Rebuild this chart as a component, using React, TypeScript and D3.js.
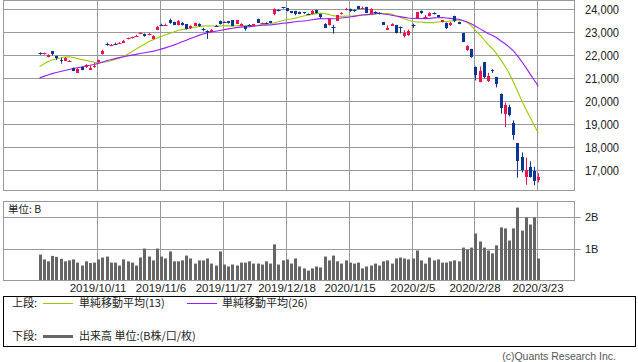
import React from "react";
import * as d3 from "d3";

const dates = [
  "2019/9/20","2019/9/24","2019/9/25","2019/9/26","2019/9/27","2019/9/30","2019/10/1","2019/10/2","2019/10/3","2019/10/4",
  "2019/10/7","2019/10/8","2019/10/9","2019/10/10","2019/10/11","2019/10/15","2019/10/16","2019/10/17","2019/10/18","2019/10/21",
  "2019/10/23","2019/10/24","2019/10/25","2019/10/28","2019/10/29","2019/10/30","2019/10/31","2019/11/1","2019/11/5","2019/11/6",
  "2019/11/7","2019/11/8","2019/11/11","2019/11/12","2019/11/13","2019/11/14","2019/11/15","2019/11/18","2019/11/19","2019/11/20",
  "2019/11/21","2019/11/22","2019/11/25","2019/11/26","2019/11/27","2019/11/28","2019/11/29","2019/12/2","2019/12/3","2019/12/4",
  "2019/12/5","2019/12/6","2019/12/9","2019/12/10","2019/12/11","2019/12/12","2019/12/13","2019/12/16","2019/12/17","2019/12/18",
  "2019/12/19","2019/12/20","2019/12/23","2019/12/24","2019/12/25","2019/12/26","2019/12/27","2019/12/30","2020/1/6","2020/1/7",
  "2020/1/8","2020/1/9","2020/1/10","2020/1/14","2020/1/15","2020/1/16","2020/1/17","2020/1/20","2020/1/21","2020/1/22",
  "2020/1/23","2020/1/24","2020/1/27","2020/1/28","2020/1/29","2020/1/30","2020/1/31","2020/2/3","2020/2/4","2020/2/5",
  "2020/2/6","2020/2/7","2020/2/10","2020/2/12","2020/2/13","2020/2/14","2020/2/17","2020/2/18","2020/2/19","2020/2/20",
  "2020/2/21","2020/2/25","2020/2/26","2020/2/27","2020/2/28","2020/3/2","2020/3/3","2020/3/4","2020/3/5","2020/3/6",
  "2020/3/9","2020/3/10","2020/3/11","2020/3/12","2020/3/13","2020/3/16","2020/3/17","2020/3/18","2020/3/19","2020/3/23",
];

const opens = [
  22100,22080,21950,22190,21980,21800,21780,21740,21450,21260,
  21500,21480,21390,21500,21700,22060,22490,22430,22510,22520,
  22560,22730,22770,22840,22950,22950,22900,22720,23118,23330,
  23310,23550,23460,23330,23400,23350,23180,23290,23380,23170,
  23060,23030,23300,23490,23460,23490,23530,23390,23300,23270,
  23330,23300,23580,23390,23420,23480,23790,23980,24090,24050,
  23930,23930,23900,23880,23810,23800,23980,23800,23380,23320,
  23220,23510,23790,23970,24030,23960,24140,24050,24100,23820,
  23890,23850,23450,23130,23300,23320,23220,22840,22880,23340,
  23620,23940,23650,23710,23850,23750,23450,23420,23310,23710,
  23450,22970,22230,22270,21500,20849,21719,20897,21380,21050,
  20344,19474,19740,19064,18183,17586,16726,17154,16995,16570,
];
const highs = [
  22140,22120,22050,22200,21990,21900,21930,21800,21480,21450,
  21520,21620,21560,21680,21820,22250,22560,22500,22560,22580,
  22680,22780,22820,22900,23010,22960,22980,22880,23290,23380,
  23390,23600,23470,23540,23450,23370,23310,23430,23400,23200,
  23100,23150,23330,23520,23480,23500,23540,23540,23400,23290,
  23360,23380,23600,23430,23440,23500,24050,24000,24110,24060,
  23940,23940,23910,23890,23830,23980,23990,23810,23400,23580,
  23330,23750,23880,24070,24040,24000,24150,24130,24120,24050,
  23920,23880,23460,23310,23400,23330,23260,23100,23130,23380,
  23880,23960,23750,23880,23880,23760,23540,23440,23460,23730,
  23470,22980,22450,22290,21520,21519,21719,21245,21400,21070,
  20347,19952,19860,19178,18184,17785,17557,17396,17160,16880,
];
const lows = [
  22030,22040,21920,22000,21810,21650,21760,21720,21320,21250,
  21360,21460,21370,21470,21690,22040,22420,22400,22450,22500,
  22540,22700,22740,22820,22930,22820,22880,22700,23100,23280,
  23290,23380,23320,23310,23300,23130,23150,23270,23250,23050,
  22726,23010,23260,23350,23420,23390,23280,23380,23280,23080,
  23280,23290,23410,23370,23370,23400,23750,23920,24040,23920,
  23840,23750,23800,23810,23770,23790,23820,23620,23190,23300,
  22950,23500,23780,23960,23900,23900,24010,24040,23840,23810,
  23800,23790,23330,23110,23280,22960,22960,22780,22850,23200,
  23600,23810,23630,23700,23780,23660,23440,23150,23280,23450,
  23360,22580,22200,21900,20916,20834,21000,20850,21250,20613,
  19472,18891,19350,18339,16690,16914,16378,16698,16358,16480,
];
const closes = [
  22079,22098,22020,22048,21878,21755,21885,21778,21341,21410,
  21375,21587,21456,21551,21798,22207,22472,22451,22492,22548,
  22625,22750,22799,22867,22974,22843,22927,22850,23251,23303,
  23330,23391,23331,23520,23319,23141,23303,23416,23292,23148,
  23038,23112,23292,23373,23437,23409,23293,23529,23379,23135,
  23300,23354,23430,23410,23391,23424,24023,23952,24066,23934,
  23864,23816,23821,23830,23782,23924,23837,23656,23204,23575,
  23204,23739,23850,24025,23916,23933,24041,24083,23864,24031,
  23870,23827,23343,23215,23379,22977,23205,22971,23084,23319,
  23873,23827,23685,23861,23827,23687,23523,23193,23400,23479,
  23386,22605,22426,21948,21142,21344,21082,21100,21329,20749,
  19698,19867,19416,18559,17431,17002,17011,16726,16552,16720,
];
// closes of the 25 sessions before the first visible one (for the moving averages)
const priorCloses = [
  20405,20418,20563,20677,20618,20628,20710,20261,20456,20479,
  20460,20704,20620,20625,20649,21085,21199,21318,21392,21597,
  21759,21988,22001,21960,22044,
];
const volumes = [
  0.84,0.69,0.63,0.80,0.77,0.71,0.63,0.66,0.69,0.59,
  0.50,0.63,0.58,0.59,0.69,0.75,0.78,0.59,0.59,0.50,
  0.69,0.63,0.59,0.50,0.75,1.03,0.78,0.66,1.03,0.78,
  0.72,0.94,0.63,0.63,0.66,0.81,0.72,0.56,0.66,0.66,
  0.72,0.56,0.50,0.94,0.53,0.47,0.53,0.50,0.59,0.59,
  0.63,0.56,0.56,0.53,0.63,0.56,1.16,0.53,0.66,0.69,
  0.56,0.72,0.47,0.41,0.34,0.41,0.47,0.44,0.78,0.66,
  0.81,0.63,0.56,0.66,0.59,0.56,0.59,0.41,0.47,0.50,
  0.56,0.50,0.63,0.66,0.56,0.72,0.75,0.72,0.69,0.72,
  0.97,0.66,0.56,0.75,0.66,0.69,0.59,0.59,0.63,0.66,
  0.63,1.06,1.00,1.06,1.50,1.25,1.06,0.97,0.88,1.13,
  1.69,1.66,1.28,1.66,2.31,1.59,2.00,1.78,2.00,0.72,
];

const dateTicks = ["2019/10/11","2019/11/6","2019/11/27","2019/12/18","2020/1/15","2020/2/5","2020/2/28","2020/3/23"];
const priceTicks = [17000,18000,19000,20000,21000,22000,23000,24000];
const volumeTicks = [1, 2];
const volumeTickLabels = ["1B", "2B"];
const maPeriods = [13, 26];

const UP = "#f0114f";
const DOWN = "#0b3595";
const MA_COLORS = ["#99cc00", "#9b1cff"];
const GRID = "#999999";
const FONT = "'Liberation Sans', Arial, sans-serif";
const CJK = "'Noto Sans CJK JP', 'Noto Sans', sans-serif";

export default function App() {
  const W = 638, H = 362;
  const L = 3.5, R = 574.5;
  const x = d3.scaleLinear().domain([0, dates.length - 1]).range([39.6, 538.3]);
  const yP = d3.scaleLinear().domain([16130, 24391]).range([190.5, 0.5]);
  const yV = d3.scaleLinear().domain([0, 2.5]).range([281.5, 201.5]);
  const cx = (i: number) => Math.round(x(i));

  const all = priorCloses.concat(closes);
  const off = priorCloses.length;
  const maSeries = maPeriods.map((p) =>
    closes.map((_, i) => {
      const end = off + i + 1;
      return d3.mean(all.slice(end - p, end)) as number;
    })
  );
  const line = d3.line<number>().x((_, i) => x(i)).y((v) => yP(v));
  const tickIdx = dateTicks.map((d) => dates.indexOf(d));

  return (
    <svg width={W} height={H} style={{ position: "absolute", left: 0, top: 0, background: "#fff" }}>
      {/* main pane grid */}
      {priceTicks.map((t) => (
        <line key={"pg" + t} x1={L} x2={R} y1={Math.round(yP(t)) + 0.5} y2={Math.round(yP(t)) + 0.5} stroke={GRID} />
      ))}
      {tickIdx.map((i) => (
        <line key={"vg" + i} x1={cx(i) - 0.5} x2={cx(i) - 0.5} y1={0.5} y2={190.5} stroke={GRID} />
      ))}
      <rect x={L} y={0.5} width={R - L} height={190} fill="none" stroke={GRID} />
      {priceTicks.map((t) => {
        const s = d3.format(",")(t);
        return (
          <text key={"pl" + t} x={585} y={yP(t)} dy="0.36em" fontFamily={FONT} fontSize={12.5} fill="#222"
            textLength={34} lengthAdjust="spacingAndGlyphs">
            {s}
          </text>
        );
      })}

      {/* moving averages */}
      {maSeries.map((s, k) => (
        <path key={"ma" + k} d={line(s) || ""} fill="none" stroke={MA_COLORS[k]} strokeWidth={1.1} />
      ))}

      {/* candles */}
      {closes.map((c, i) => {
        const o = opens[i];
        const col = c > o ? UP : DOWN;
        const top = yP(Math.max(o, c));
        const bot = yP(Math.min(o, c));
        const xc = cx(i);
        return (
          <g key={"c" + i}>
            <line x1={xc + 0.5} x2={xc + 0.5} y1={yP(highs[i])} y2={yP(lows[i])} stroke={col} strokeWidth={1} />
            <rect x={xc - 1} y={Math.round(top)} width={3} height={Math.max(1, Math.round(bot) - Math.round(top))} fill={col} />
            {Math.abs(bot - top) < 1 && (
              <rect x={xc - 1.5} y={Math.round(top)} width={4} height={1} fill={col} />
            )}
          </g>
        );
      })}

      {/* volume pane */}
      {volumeTicks.map((t) => (
        <line key={"vgh" + t} x1={L} x2={R + 6} y1={yV(t)} y2={yV(t)} stroke={GRID} />
      ))}
      {tickIdx.map((i) => (
        <line key={"vvg" + i} x1={cx(i) - 0.5} x2={cx(i) - 0.5} y1={201.5} y2={280.5} stroke={GRID} />
      ))}
      {volumes.map((v, i) => (
        <rect key={"v" + i} x={cx(i) - 1} y={yV(v)} width={3} height={yV(0) - yV(v) - 1} fill="#666" />
      ))}
      <rect x={L} y={201.5} width={R - L} height={79} fill="none" stroke={GRID} />
      <text x={8} y={213} fontFamily={CJK} fontSize={10.5} fill="#222">単位: B</text>
      {volumeTicks.map((t, k) => (
        <text key={"vl" + t} x={585} y={yV(t)} dy="0.36em" fontFamily={FONT} fontSize={11} fill="#222">
          {volumeTickLabels[k]}
        </text>
      ))}
      {tickIdx.map((i, k) => (
        <text key={"dl" + k} x={cx(i)} y={292} textAnchor="middle" fontFamily={FONT} fontSize={11.5} fill="#222">
          {dateTicks[k]}
        </text>
      ))}

      {/* legend */}
      <rect x={3.5} y={296.5} width={632} height={50} fill="none" stroke="#000" />
      <text x={12} y={307} fontFamily={CJK} fontSize={11} fill="#222">上段:</text>
      <line x1={43} x2={73} y1={303.5} y2={303.5} stroke={MA_COLORS[0]} />
      <text x={79} y={307} fontFamily={CJK} fontSize={11} fill="#222">単純移動平均(13)</text>
      <line x1={187} x2={217} y1={303.5} y2={303.5} stroke={MA_COLORS[1]} />
      <text x={222} y={307} fontFamily={CJK} fontSize={11} fill="#222">単純移動平均(26)</text>
      <text x={12} y={340} fontFamily={CJK} fontSize={11} fill="#222">下段:</text>
      <line x1={43} x2={73} y1={336.5} y2={336.5} stroke="#666" strokeWidth={3} />
      <text x={79} y={340} fontFamily={CJK} fontSize={11} fill="#222">出来高 単位:(B株/口/枚)</text>

      <text x={616} y={360} textAnchor="end" fontFamily={FONT} fontSize={10.5} fill="#555">(c)Quants Research Inc.</text>
    </svg>
  );
}
